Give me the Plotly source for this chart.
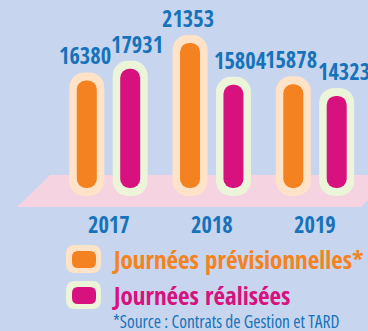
import plotly.graph_objects as go

# ---- data -----------------------------------------------------------------
years = ["2017", "2018", "2019"]
previsionnelles = [16380, 21353, 15878]
realisees = [17931, 15804, 14323]
legend_labels = ["Journées prévisionnelles*", "Journées réalisées"]
source_note = "*Source : Contrats de Gestion et TARD"

# ---- styling --------------------------------------------------------------
W, H = 368, 331
BG = "#c7d5ee"
FLOOR = "#f5d3e1"
ORANGE = "#f58220"
MAGENTA = "#d7127e"
HALO_OR = "#fee3c8"
HALO_MG = "#ecf4da"
BLUE = "#1673b9"
FONT_BOLD = "'Open Sans Condensed', 'Open Sans', sans-serif"
FONT = "'Open Sans', sans-serif"

# vertical scale: data units per pixel, value 0 sits 204 px below the top
UNITS_PER_PX = 132.6
ZERO_PX = 204
y_range = [-(H - ZERO_PX) * UNITS_PER_PX, ZERO_PX * UNITS_PER_PX]
# horizontal scale: one category step ~103 px, first group centred at 108.5 px
STEP_PX = 103.25
FIRST_PX = 108.5
x_range = [-FIRST_PX / STEP_PX, (W - FIRST_PX) / STEP_PX]


def uy(px):
    return px * UNITS_PER_PX


def ux(px):
    return px / STEP_PX


BAR_W = ux(20)
HALO_W = ux(35)
SHIFT = ux(21.7)
BAR_FLOOR = uy(ZERO_PX - 188)     # foot of each bar
HALO_FLOOR = uy(ZERO_PX - 196)
HALO_PAD = uy(8)

fig = go.Figure()


def pill(tops, floor, width, offset, color, radius):
    """Bar with an explicit base: plotly rounds both of its ends."""
    fig.add_trace(go.Bar(
        x=years, y=[t - floor for t in tops], base=[floor] * len(tops),
        width=width, offset=offset - width / 2, hoverinfo="skip", showlegend=False,
        marker=dict(color=color, line=dict(width=0), cornerradius=radius)))


series = [
    (previsionnelles, -SHIFT, ORANGE, HALO_OR, -2),
    (realisees, SHIFT, MAGENTA, HALO_MG, 7),
]

# pale halos behind the bars
for vals, off, col, halo, _ in series:
    pill([v + HALO_PAD for v in vals], HALO_FLOOR, HALO_W, off, halo, 15)
# the bars themselves
for vals, off, col, halo, _ in series:
    pill(vals, BAR_FLOOR, BAR_W, off, col, 9)

annotations = []
# value labels above each bar
for vals, off, col, halo, xs in series:
    for i, v in enumerate(vals):
        annotations.append(dict(
            x=i + off, y=v, xref="x", yref="y", text=f"{v}", showarrow=False,
            xanchor="center", yanchor="bottom", yshift=7, xshift=xs,
            font=dict(family=FONT_BOLD, size=22.5, color=BLUE, weight="bold")))
# year labels under the floor
for i, yr in enumerate(years):
    annotations.append(dict(
        x=i, y=1 - 224 / H, xref="x", yref="paper", text=yr, showarrow=False,
        xanchor="center", yanchor="middle",
        font=dict(family=FONT_BOLD, size=22.5, color=BLUE, weight="bold")))


def px(x):
    return x / W


def py(y):
    return 1 - y / H


def rounded_rect(x0, y0, x1, y1, r):
    rx, ry = r / W, r / H
    X0, X1, Y0, Y1 = px(x0), px(x1), py(y0), py(y1)
    return (f"M{X0 + rx},{Y0} L{X1 - rx},{Y0} Q{X1},{Y0} {X1},{Y0 - ry} "
            f"L{X1},{Y1 + ry} Q{X1},{Y1} {X1 - rx},{Y1} L{X0 + rx},{Y1} "
            f"Q{X0},{Y1} {X0},{Y1 + ry} L{X0},{Y0 - ry} Q{X0},{Y0} {X0 + rx},{Y0} Z")


shapes = [
    # pink floor under the bars
    dict(type="path", xref="paper", yref="paper", layer="below", line=dict(width=0),
         fillcolor=FLOOR,
         path=f"M{px(50)},{py(175)} L{px(394)},{py(175)} L{px(361)},{py(207)} "
              f"L{px(17)},{py(207)} Z"),
]

# legend swatches and labels
legend_rows = [(245, 273, ORANGE, HALO_OR), (281, 309, MAGENTA, HALO_MG)]
for (top, bot, col, halo), label in zip(legend_rows, legend_labels):
    shapes.append(dict(type="path", xref="paper", yref="paper", line=dict(width=0),
                       fillcolor=halo, path=rounded_rect(66, top, 101, bot, 9)))
    shapes.append(dict(type="path", xref="paper", yref="paper", line=dict(width=0),
                       fillcolor=col, path=rounded_rect(72, top + 6, 96, bot - 5, 6)))
    annotations.append(dict(
        x=px(110), y=py((top + bot) / 2), xref="paper", yref="paper", text=label,
        showarrow=False, xanchor="left", yanchor="middle",
        font=dict(family=FONT_BOLD, size=25, color=col, weight="bold")))

annotations.append(dict(
    x=px(111), y=py(321), xref="paper", yref="paper",
    text=f"<span style='font-stretch:75%'>{source_note}</span>",
    showarrow=False, xanchor="left", yanchor="middle",
    font=dict(family=FONT, size=17.5, color=BLUE, weight="normal")))

fig.update_layout(
    width=W, height=H, margin=dict(l=0, r=0, t=0, b=0, pad=0),
    paper_bgcolor=BG, plot_bgcolor=BG, barmode="overlay",
    xaxis=dict(type="category", range=x_range, visible=False, fixedrange=True),
    yaxis=dict(range=y_range, visible=False, fixedrange=True),
    shapes=shapes, annotations=annotations, hovermode=False, showlegend=False,
)

fig.write_html("out.html", config={"displayModeBar": False})
